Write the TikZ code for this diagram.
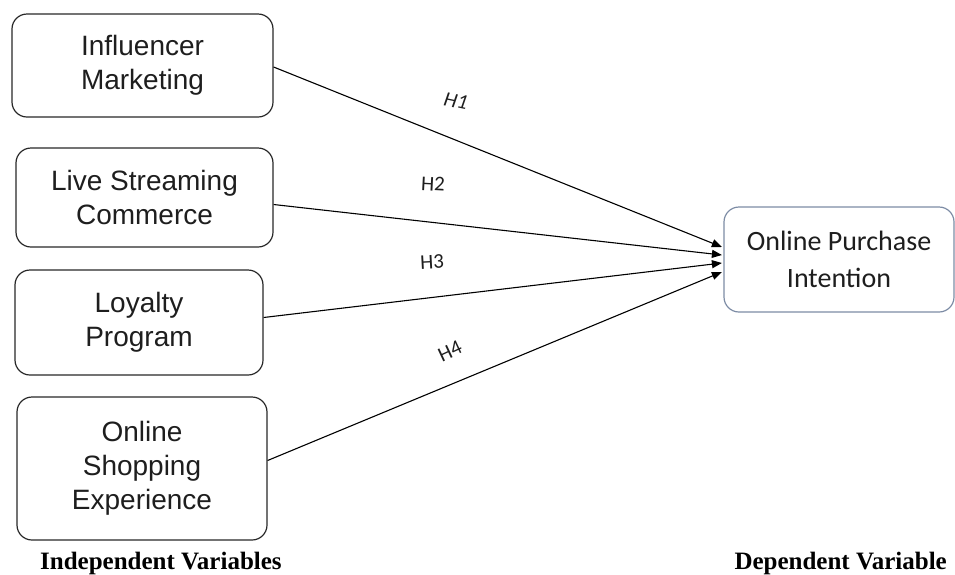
\documentclass[tikz,border=0pt]{standalone}
\usepackage{fontspec}
\setmainfont{Liberation Sans}
\newfontfamily\calfont{Carlito}
\newfontfamily\timesfont{Liberation Serif}
\usetikzlibrary{arrows.meta}
\definecolor{boxline}{RGB}{40,40,40}
\definecolor{depline}{RGB}{125,140,165}
\definecolor{txt}{RGB}{30,30,30}
\tikzset{
  ivbox/.style={draw=boxline, line width=1.2pt, rounded corners=15pt, inner sep=0pt,
    align=center, text=txt, font=\fontsize{28}{34}\selectfont},
  dvbox/.style={draw=depline, line width=1.2pt, rounded corners=15pt, inner sep=0pt,
    align=center, text=txt, font=\calfont\fontsize{28}{37}\selectfont},
  hyp/.style={-{Triangle[length=10pt,width=8pt]}, line width=1.1pt, draw=black},
  hlab/.style={font=\calfont\fontsize{21}{24}\selectfont, text=txt, inner sep=0pt},
  caption/.style={font=\timesfont\bfseries\fontsize{25}{28}\selectfont, inner sep=0pt}
}
\begin{document}
\begin{tikzpicture}[x=1pt,y=-1pt]
\useasboundingbox (0,0) rectangle (955,574);
\node[ivbox, minimum width=261pt, minimum height=103pt] (b1) at (142.5,65.5) {Influencer\\Marketing};
\node[ivbox, minimum width=257pt, minimum height=99pt] (b2) at (144.5,197.5) {Live Streaming\\Commerce};
\node[ivbox, minimum width=248pt, minimum height=105pt] (b3) at (139,322.5) {Loyalty\\Program};
\node[ivbox, minimum width=250pt, minimum height=143pt] (b4) at (142,468.5) {Online\\Shopping\\Experience};
\node[dvbox, minimum width=230pt, minimum height=105pt] (dv) at (839,259.5) {Online Purchase\\Intention};

\draw[hyp] ([yshift=-1.5pt]b1.east) -- ([xshift=-1.5pt,yshift=12.5pt]dv.west);
\draw[hyp] ([yshift=-7pt]b2.east) -- ([xshift=-1.5pt,yshift=4.5pt]dv.west);
\draw[hyp] ([yshift=5pt]b3.east) -- ([xshift=-1.5pt,yshift=-3.5pt]dv.west);
\draw[hyp] ([yshift=8pt]b4.east) -- ([xshift=-1.5pt,yshift=-12.5pt]dv.west);

\node[hlab, rotate=-12] (h1) at (456,101) {\itshape H1};
\node[hlab, rotate=-3] (h2) at (433,184) {H2};
\node[hlab, rotate=3] (h3) at (432,262) {H3};
\node[hlab, rotate=25] (h4) at (450,351) {H4};

\node[caption, anchor=base west] (iv) at (40,569) {Independent Variables};
\node[caption, anchor=base east] (dvl) at (947,569) {Dependent Variable};
\end{tikzpicture}
\end{document}
